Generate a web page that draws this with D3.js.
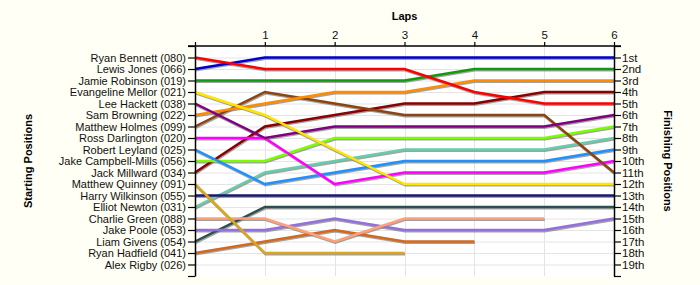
<!DOCTYPE html>
<html>
<head>
<meta charset="utf-8">
<script src="https://cdn.jsdelivr.net/npm/d3@7"></script>
<style>
  html, body { margin: 0; padding: 0; background: #fffff5; }
  svg { display: block; }
  text { font-family: "Liberation Sans", Arial, sans-serif; }
</style>
</head>
<body>
<svg id="chart" width="700" height="285"></svg>
<script>
// ---- data ----
const laps = [0, 1, 2, 3, 4, 5, 6];
const lapLabels = ["", "1", "2", "3", "4", "5", "6"];
const drivers = [
  "Ryan Bennett (080)", "Lewis Jones (066)", "Jamie Robinson (019)", "Evangeline Mellor (021)",
  "Lee Hackett (038)", "Sam Browning (022)", "Matthew Holmes (099)", "Ross Darlington (020)",
  "Robert Leyland (025)", "Jake Campbell-Mills (056)", "Jack Millward (034)", "Matthew Quinney (091)",
  "Harry Wilkinson (055)", "Elliot Newton (031)", "Charlie Green (088)", "Jake Poole (053)",
  "Liam Givens (054)", "Ryan Hadfield (041)", "Alex Rigby (026)"
];
const finishLabels = ["1st","2nd","3rd","4th","5th","6th","7th","8th","9th","10th",
  "11th","12th","13th","14th","15th","16th","17th","18th","19th"];
// position of each driver at lap 0..n (shorter array = retired)
const lapPositions = [
  [1, 2, 2, 2, 4, 5, 5],
  [2, 1, 1, 1, 1, 1, 1],
  [3, 3, 3, 3, 2, 2, 2],
  [4, 6, 9, 12, 12, 12, 12],
  [5, 8, 7, 7, 7, 7, 6],
  [6, 5, 4, 4, 3, 3, 3],
  [7, 4, 5, 6, 6, 6, 11],
  [8, 8, 12, 11, 11, 11, 10],
  [9, 12, 11, 10, 10, 10, 9],
  [10, 10, 8, 8, 8, 8, 7],
  [11, 7, 6, 5, 5, 4, 4],
  [12, 18, 18, 18],
  [13, 13, 13, 13, 13, 13, 13],
  [14, 11, 10, 9, 9, 9, 8],
  [15, 15, 17, 15, 15, 15],
  [16, 16, 15, 16, 16, 16, 15],
  [17, 14, 14, 14, 14, 14, 14],
  [18, 17, 16, 17, 17],
  [19]
];
const colors = [
  "#ff0000", "#0000cd", "#109a10", "#ffe600", "#800080", "#ff8c00", "#8b4513", "#ff00ff",
  "#1e90ff", "#7cfc00", "#8b0000", "#daa520", "#191970", "#66cdaa", "#ffa07a", "#9370db",
  "#2f4f4f", "#d2691e", "#a0a0a0"
];

// ---- layout ----
const svg = d3.select("#chart");
const mLeft = 195, mRight = 614, mTop = 46, mBottom = 276;
const x = d3.scaleLinear().domain([0, 6]).range([mLeft, mRight]);
const y = d3.scaleLinear().domain([0, 20]).range([mTop, mBottom]);
const positionTicks = d3.range(0, 21);

// plot background
svg.append("rect").attr("x", mLeft).attr("y", mTop)
  .attr("width", mRight - mLeft).attr("height", mBottom - mTop).attr("fill", "#ffffff");

// grid
const grid = svg.append("g");
grid.selectAll("line.h").data(d3.range(1, 20)).join("line")
  .attr("x1", mLeft).attr("x2", mRight)
  .attr("y1", d => y(d) + 0.5).attr("y2", d => y(d) + 0.5)
  .attr("stroke", "#e4e4e4").attr("stroke-width", 1);
grid.selectAll("line.v").data(laps.slice(1, 6)).join("line")
  .attr("y1", mTop).attr("y2", mBottom)
  .attr("x1", d => Math.round(x(d)) + 0.5).attr("x2", d => Math.round(x(d)) + 0.5)
  .attr("stroke", "#e4e4e4").attr("stroke-width", 1);

// lines
const line = d3.line().x((d, i) => x(laps[i])).y(d => y(d));
const series = drivers.map((name, i) => ({ name, pos: lapPositions[i], color: colors[i] }))
  .filter(s => s.pos.length > 1);
const linesG = svg.append("g");
const order = series.slice().reverse();
linesG.selectAll("path.shadow").data(order).join("path")
  .attr("d", d => line(d.pos))
  .attr("transform", "translate(0.6,1.3)")
  .attr("fill", "none").attr("stroke", "#7a7a7a").attr("stroke-opacity", 0.7)
  .attr("stroke-width", 2.5).attr("stroke-linejoin", "miter");
linesG.selectAll("path.main").data(order).join("path")
  .attr("d", d => line(d.pos))
  .attr("fill", "none").attr("stroke", d => d.color)
  .attr("stroke-width", 2.5).attr("stroke-linejoin", "miter");

// axes
const topAxis = d3.axisTop(x).tickValues(laps).tickFormat((d, i) => lapLabels[i])
  .tickSize(4).tickSizeOuter(0);
const gTop = svg.append("g").attr("transform", `translate(0,${mTop})`).call(topAxis);

const leftAxis = d3.axisLeft(y).tickValues(positionTicks)
  .tickFormat(d => (d >= 1 && d <= 19) ? drivers[d - 1] : "")
  .tickSize(7).tickSizeOuter(0).tickPadding(2);
const gLeft = svg.append("g").attr("transform", `translate(${mLeft},0)`).call(leftAxis);

const rightAxis = d3.axisRight(y).tickValues(positionTicks)
  .tickFormat(d => (d >= 1 && d <= 19) ? finishLabels[d - 1] : "")
  .tickSize(7).tickSizeOuter(0).tickPadding(1);
const gRight = svg.append("g").attr("transform", `translate(${mRight},0)`).call(rightAxis);

[gTop, gLeft, gRight].forEach(g => {
  g.selectAll("path.domain").attr("stroke", "#000").attr("stroke-width", 1.5);
  g.selectAll(".tick line").attr("stroke", "#000").attr("stroke-width", 1.2);
  g.selectAll("text").attr("fill", "#111")
    .style("font-family", "'Liberation Sans', Arial, sans-serif");
});
gTop.selectAll("text").style("font-size", "11.5px");
gLeft.selectAll("text").style("font-size", "11px");
gRight.selectAll("text").style("font-size", "11.5px");
gTop.select("path.domain").remove();
svg.append("line").attr("x1", mLeft - 7).attr("x2", mRight + 7)
  .attr("y1", mTop).attr("y2", mTop).attr("stroke", "#000").attr("stroke-width", 1.5);

// titles
svg.append("text").attr("x", (mLeft + mRight) / 2).attr("y", 20)
  .attr("text-anchor", "middle").style("font-size", "11px").style("font-weight", "bold").text("Laps");
svg.append("text").attr("transform", `translate(32,${(mTop + mBottom) / 2}) rotate(-90)`)
  .attr("text-anchor", "middle").style("font-size", "11px").style("font-weight", "bold")
  .text("Starting Positions");
svg.append("text").attr("transform", `translate(664,${(mTop + mBottom) / 2}) rotate(90)`)
  .attr("text-anchor", "middle").style("font-size", "11px").style("font-weight", "bold")
  .text("Finishing Positions");
</script>
</body>
</html>
